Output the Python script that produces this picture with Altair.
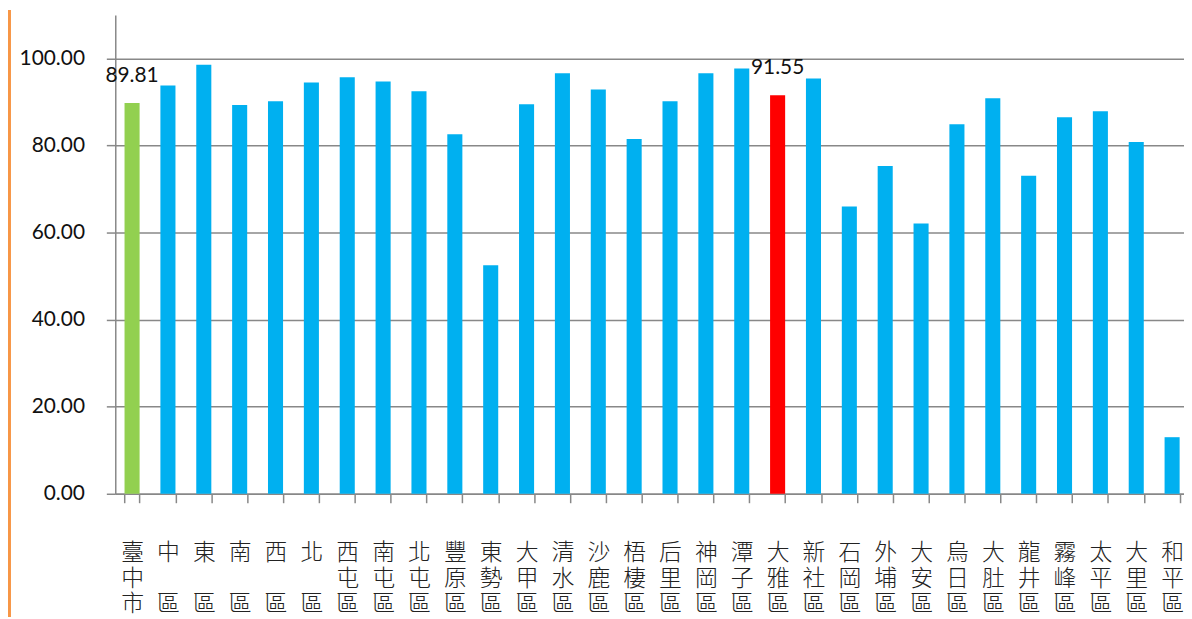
import altair as alt
import pandas as pd

districts = ["臺中市", "中區", "東區", "南區", "西區", "北區", "西屯區", "南屯區", "北屯區", "豐原區",
             "東勢區", "大甲區", "清水區", "沙鹿區", "梧棲區", "后里區", "神岡區", "潭子區", "大雅區", "新社區",
             "石岡區", "外埔區", "大安區", "烏日區", "大肚區", "龍井區", "霧峰區", "太平區", "大里區", "和平區"]
scores = [89.81, 93.8, 98.6, 89.3, 90.2, 94.5, 95.7, 94.7, 92.5, 82.6,
          52.5, 89.5, 96.6, 92.9, 81.5, 90.2, 96.6, 97.7, 91.55, 95.4,
          66.0, 75.3, 62.1, 84.9, 90.9, 73.1, 86.5, 87.9, 80.8, 13.0]
highlight = {"臺中市": "total", "大雅區": "focus"}
y_ticks = [0, 20, 40, 60, 80, 100]

df = pd.DataFrame({"district": districts, "score": scores})
df["kind"] = df["district"].map(lambda d: highlight.get(d, "other"))

label_expr = ("length(datum.label) == 2 ? [substring(datum.label, 0, 1), '\u200b', substring(datum.label, 1, 2)]"
              " : split(datum.label, '')")

x_enc = alt.X("district:N", sort=districts, title=None,
              scale=alt.Scale(paddingInner=0.58, paddingOuter=0.19, align=0.68),
              axis=alt.Axis(labelAngle=0, labelExpr=label_expr, labelFont="Noto Sans CJK TC",
                            labelFontSize=23, labelLineHeight=26, labelColor="#222",
                            labelBaseline="top", labelPadding=39, tickBand="extent",
                            tickSize=9, tickColor="#888", tickWidth=1.5,
                            domainColor="#888", domainWidth=1.5, labelFontWeight=300))

base = alt.Chart(df)

bars = base.mark_bar().encode(
    x=x_enc,
    y=alt.Y("score:Q", title=None,
            scale=alt.Scale(domain=[0, 110], nice=False),
            axis=alt.Axis(values=y_ticks, format=".2f", labelFont="Lato", labelFontSize=21,
                          labelColor="#111", labelPadding=22, tickSize=9, tickColor="#888",
                          tickWidth=1.5, domainColor="#888", domainWidth=1.5,
                          grid=True, gridColor="#888", gridWidth=1.5)),
    color=alt.Color("kind:N", legend=None,
                    scale=alt.Scale(domain=["total", "focus", "other"],
                                    range=["#92D050", "#FF0000", "#00B0F0"])),
)

labels = base.transform_filter(alt.datum.kind != "other").mark_text(
    font="Lato", fontSize=21, color="#111", baseline="middle", dy=-27
).encode(
    x=alt.X("district:N", sort=districts),
    y="score:Q",
    text=alt.Text("score:Q", format=".2f"),
)

orange = alt.Chart(pd.DataFrame({"a": [0]})).mark_rule(color="#F79646", strokeWidth=3).encode(
    x=alt.value(-106.5), y=alt.value(-5), y2=alt.value(606)
)

chart = alt.layer(bars, labels, orange).properties(
    width=1076, height=482,
    autosize="none",
    background="white",
    padding={"left": 108, "top": 5, "right": 0, "bottom": 124},
).configure_view(stroke=None)

chart.save("out.html", embed_options={"renderer": "svg", "actions": False})
